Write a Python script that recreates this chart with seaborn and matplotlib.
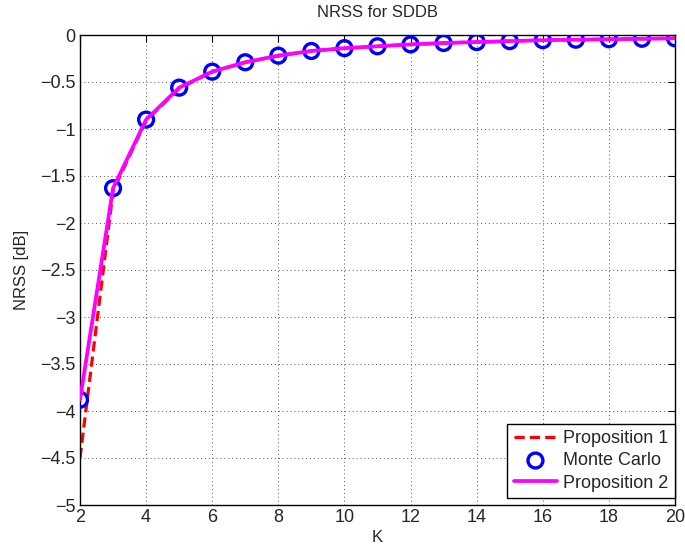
import matplotlib
matplotlib.use("Agg")
import matplotlib.pyplot as plt
import seaborn as sns
import pandas as pd
import numpy as np

K = [2, 3, 4, 5, 6, 7, 8, 9, 10, 11, 12, 13, 14, 15, 16, 17, 18, 19, 20]
monte_carlo = [-3.88, -1.63, -0.90, -0.56, -0.39, -0.29, -0.22, -0.17, -0.14, -0.12,
               -0.10, -0.085, -0.075, -0.065, -0.055, -0.05, -0.045, -0.04, -0.035]
prop1 = [-4.50, -1.66, -0.91, -0.57, -0.39, -0.29, -0.22, -0.17, -0.14, -0.12,
         -0.10, -0.085, -0.075, -0.065, -0.055, -0.05, -0.045, -0.04, -0.035]
prop2 = [-3.88, -1.63, -0.90, -0.56, -0.39, -0.29, -0.22, -0.17, -0.14, -0.12,
         -0.10, -0.085, -0.075, -0.065, -0.055, -0.05, -0.045, -0.04, -0.035]
xticks = [2, 4, 6, 8, 10, 12, 14, 16, 18, 20]
yticks = [0, -0.5, -1, -1.5, -2, -2.5, -3, -3.5, -4, -4.5, -5]

sns.set_style("white")
plt.rcParams['font.family'] = ['Liberation Sans', 'DejaVu Sans']
plt.rcParams['axes.unicode_minus'] = True

df = pd.DataFrame({"K": K, "mc": monte_carlo, "p1": prop1, "p2": prop2})

fig = plt.figure(figsize=(6.85, 5.55), dpi=100)
ax = fig.add_axes([80/685, 50/555, 595/685, 470/555])

sns.lineplot(data=df, x="K", y="p1", ax=ax, color="red", linestyle="--", linewidth=2.3,
             label="Proposition 1")
ax.lines[-1].set_dashes([3.2, 1.6])
sns.scatterplot(data=df, x="K", y="mc", ax=ax, marker="o", s=115, facecolors="none",
                edgecolor="blue", linewidth=2.4, label="Monte Carlo", zorder=3)
sns.lineplot(data=df, x="K", y="p2", ax=ax, color="magenta", linewidth=2.7,
             label="Proposition 2", zorder=4)

ax.set_xlim(2, 20)
ax.set_ylim(-5, 0)
ax.set_xticks(xticks)
ax.set_yticks(yticks)
ax.set_xticklabels([str(t) for t in xticks])
ax.set_yticklabels(["0" if t == 0 else ("\u2212" + (str(int(-t)) if float(t).is_integer() else str(-t))) for t in yticks])
ax.grid(True, linestyle=(0, (1, 3)), color="#555555", linewidth=0.7)
ax.tick_params(direction="in", length=5, width=0.8, labelsize=13, top=True, right=True, pad=3, color="black")
for sp in ax.spines.values():
    sp.set_visible(True)
    sp.set_color("black")
    sp.set_linewidth(1.0)

ax.set_xlabel("K", fontsize=12, labelpad=3)
ax.set_ylabel("NRSS [dB]", fontsize=12, labelpad=8)
ax.set_title("NRSS for SDDB", fontsize=12, pad=13)

leg = ax.legend(loc="lower right", bbox_to_anchor=(1.0, 7/470), fontsize=13, frameon=True,
                fancybox=False, edgecolor="black", framealpha=1, borderpad=0.35,
                labelspacing=0.3, handlelength=2.4, handletextpad=0.35, borderaxespad=0)
leg.get_frame().set_linewidth(1.0)

fig.savefig("out.png", dpi=100)
